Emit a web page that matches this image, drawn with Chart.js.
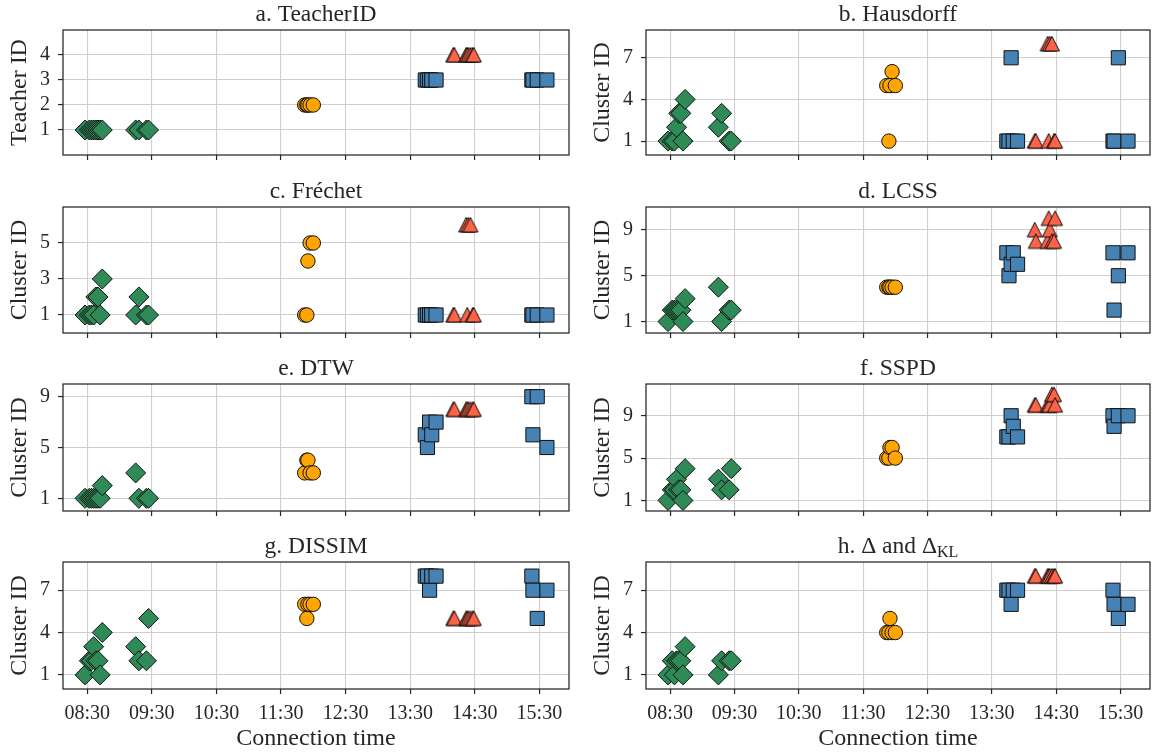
<!DOCTYPE html>
<html>
<head>
<meta charset="utf-8">
<script src="https://cdn.jsdelivr.net/npm/chart.js@4.4.1/dist/chart.umd.min.js"></script>
<style>
  html, body { margin: 0; padding: 0; background: #fff; }
  #fig { position: relative; width: 1161px; height: 755px; overflow: hidden; }
  .panel { position: absolute; }
</style>
</head>
<body>
<div id="fig"></div>
<script>
// ---- data: one entry per student, ordered by teacher group ----
const connTimes = [
  '08:28', '08:32', '08:34', '08:36', '08:38', '08:40', '08:42', '08:44', '09:15', '09:18', '09:25', '09:27',
  '11:52', '11:54', '11:55', '11:57', '12:00',
  '13:44', '13:46', '13:48', '13:50', '13:54', '15:23', '15:24', '15:28', '15:37',
  '14:10', '14:11', '14:22', '14:23', '14:24', '14:26', '14:28', '14:29'
];
const teacherIds  = [1,1,1,1,1,1,1,1,1,1,1,1, 2,2,2,2,2, 3,3,3,3,3,3,3,3,3, 4,4,4,4,4,4,4,4];
const hausdorffIds = [1,1,1,2,3,3,1,4,2,3,1,1, 5,1,5,6,5, 1,1,7,1,1,1,1,7,1, 1,1,8,1,8,8,1,1];
const frechetIds  = [1,1,1,1,2,2,1,3,1,2,1,1, 1,1,4,5,5, 1,1,1,1,1,1,1,1,1, 1,1,6,1,6,6,1,1];
const lcssIds     = [1,2,2,2,2,2,1,3,4,1,2,2, 4,4,4,4,4, 7,5,6,7,6,7,2,5,7, 9,8,8,10,9,8,8,10];
const dtwIds      = [1,1,1,1,1,1,1,2,3,1,1,1, 3,4,4,3,3, 6,5,7,6,7,9,6,9,5, 8,8,8,8,8,8,8,8];
const sspdIds     = [1,2,2,3,2,2,1,4,3,2,2,4, 5,5,6,6,5, 7,7,9,8,7,9,8,9,9, 10,10,10,10,10,11,11,10];
const dissimIds   = [1,2,2,3,2,2,1,4,3,2,2,5, 6,5,6,6,6, 8,8,7,8,8,8,7,5,7, 5,5,5,5,5,5,5,5];
const deltaIds    = [1,2,1,2,2,2,1,3,1,2,2,2, 4,4,5,4,4, 7,7,6,7,7,7,6,5,6, 8,8,8,8,8,8,8,8];

const timeTicks = ['08:30', '09:30', '10:30', '11:30', '12:30', '13:30', '14:30', '15:30'];

const panelTitles = ['a. TeacherID', 'b. Hausdorff', 'c. Fr\u00e9chet', 'd. LCSS',
                     'e. DTW', 'f. SSPD', 'g. DISSIM', 'h. \u0394 and \u0394'];
const panelSubs   = ['', '', '', '', '', '', '', 'KL'];
const panelIds    = [teacherIds, hausdorffIds, frechetIds, lcssIds, dtwIds, sspdIds, dissimIds, deltaIds];
const panelYTicks = [[1, 2, 3, 4], [1, 4, 7], [1, 3, 5], [1, 5, 9], [1, 5, 9], [1, 5, 9], [1, 4, 7], [1, 4, 7]];
const panelYMax   = [5, 9, 7, 11, 10, 12, 9, 9];

// ---- look ----
const INK = '#262626';
const EDGE = '#111';
const GRID = '#cfcfcf';
const SERIF = '"Liberation Serif", "DejaVu Serif", serif';
const TICK_SIZE = 20, LABEL_SIZE = 24, TITLE_SIZE = 23.5;

const toMinutes = t => { const [h, m] = t.split(':').map(Number); return h * 60 + m; };
const fmtTime = v => String(Math.floor(v / 60)).padStart(2, '0') + ':' + String(v % 60).padStart(2, '0');
const tickMinutes = timeTicks.map(toMinutes);

function triangleMarker(color) {
  const c = document.createElement('canvas');
  c.width = 18; c.height = 18;
  const g = c.getContext('2d');
  g.beginPath();
  g.moveTo(9, 1.5); g.lineTo(16.5, 16); g.lineTo(1.5, 16); g.closePath();
  g.fillStyle = color; g.fill();
  g.lineWidth = 1; g.strokeStyle = EDGE; g.stroke();
  return c;
}

const groups = [
  { name: 'Teacher 1', style: 'rectRot', radius: 10, color: '#2e8b57' },
  { name: 'Teacher 2', style: 'circle', radius: 7.2, color: '#ffa500' },
  { name: 'Teacher 3', style: 'rect', radius: 10, color: '#4682b4' },
  { name: 'Teacher 4', style: triangleMarker('#ff6347'), radius: 8, color: '#ff6347' }
];

// frame around the plot area + panel title (with optional subscript)
const panelDecor = {
  id: 'panelDecor',
  afterDraw(chart, args, opts) {
    const { ctx, chartArea: a } = chart;
    ctx.save();
    ctx.strokeStyle = INK;
    ctx.lineWidth = 1.25;
    ctx.strokeRect(a.left, a.top, a.right - a.left, a.bottom - a.top);

    const mainFont = `${TITLE_SIZE}px ${SERIF}`;
    const subFont = `${Math.round(TITLE_SIZE * 0.7)}px ${SERIF}`;
    ctx.font = mainFont;
    const wMain = ctx.measureText(opts.text).width;
    ctx.font = subFont;
    const wSub = opts.sub ? ctx.measureText(opts.sub).width : 0;
    let x = (a.left + a.right) / 2 - (wMain + wSub) / 2;
    const y = a.top - 15;
    ctx.fillStyle = INK;
    ctx.textAlign = 'left';
    ctx.textBaseline = 'middle';
    ctx.font = mainFont;
    ctx.fillText(opts.text, x, y);
    if (opts.sub) {
      ctx.font = subFont;
      ctx.fillText(opts.sub, x + wMain, y + 6);
    }
    ctx.restore();
  }
};

// ---- grid of panels ----
const fig = document.getElementById('fig');
const colLeft = [0, 580], colWidth = [580, 581];
const axisWidth = [63, 66], padRight = [10, 9], yTitlePad = [5, 8.5];
const frameTop = [30, 207, 384, 562], frameBottom = [155, 333, 511, 689];
const canvasTop = [0, 177, 354, 532], canvasHeight = [177, 177, 178, 223];

panelTitles.forEach((title, k) => {
  const row = Math.floor(k / 2), col = k % 2;
  const isBottom = row === 3;
  const ids = panelIds[k];
  const xAxisH = canvasHeight[row] - 30 - (frameBottom[row] - frameTop[row]);

  const canvas = document.createElement('canvas');
  canvas.className = 'panel';
  canvas.width = colWidth[col];
  canvas.height = canvasHeight[row];
  canvas.style.left = colLeft[col] + 'px';
  canvas.style.top = canvasTop[row] + 'px';
  fig.appendChild(canvas);

  const datasets = groups.map((g, gi) => ({
    label: g.name,
    data: connTimes
      .map((t, i) => ({ x: toMinutes(t), y: ids[i], teacher: teacherIds[i] }))
      .filter(p => p.teacher === gi + 1),
    pointStyle: g.style,
    pointRadius: g.radius,
    pointHoverRadius: g.radius,
    pointBackgroundColor: g.color,
    pointBorderColor: EDGE,
    pointBorderWidth: 1,
    showLine: false
  }));

  new Chart(canvas, {
    type: 'scatter',
    data: { datasets },
    options: {
      responsive: false,
      animation: false,
      devicePixelRatio: 1,
      events: [],
      layout: { padding: { top: 30, right: padRight[col], bottom: 0, left: 0 } },
      plugins: {
        legend: { display: false },
        tooltip: { enabled: false },
        panelDecor: { text: title, sub: panelSubs[k] }
      },
      scales: {
        x: {
          type: 'linear',
          min: 487.5,
          max: 957.5,
          afterBuildTicks: s => { s.ticks = tickMinutes.map(v => ({ value: v })); },
          afterFit: s => { s.height = xAxisH; },
          border: { display: false },
          grid: { color: GRID, lineWidth: 1.1, tickColor: INK, tickLength: 5, tickWidth: 1.2 },
          ticks: {
            display: isBottom,
            maxRotation: 0,
            padding: 8,
            color: INK,
            font: { family: SERIF, size: TICK_SIZE },
            callback: v => fmtTime(v)
          },
          title: {
            display: isBottom,
            text: 'Connection time',
            color: INK,
            font: { family: SERIF, size: LABEL_SIZE },
            padding: { top: 0, bottom: 2 }
          }
        },
        y: {
          min: 0,
          max: panelYMax[k],
          afterBuildTicks: s => { s.ticks = panelYTicks[k].map(v => ({ value: v })); },
          afterFit: s => { s.width = axisWidth[col]; },
          border: { display: false },
          grid: { color: GRID, lineWidth: 1.1, tickColor: INK, tickLength: 5, tickWidth: 1.2 },
          ticks: {
            padding: 8,
            color: INK,
            font: { family: SERIF, size: TICK_SIZE }
          },
          title: {
            display: true,
            text: k === 0 ? 'Teacher ID' : 'Cluster ID',
            color: INK,
            font: { family: SERIF, size: LABEL_SIZE },
            padding: { top: yTitlePad[col], bottom: 0 }
          }
        }
      }
    },
    plugins: [panelDecor]
  });
});
</script>
</body>
</html>
